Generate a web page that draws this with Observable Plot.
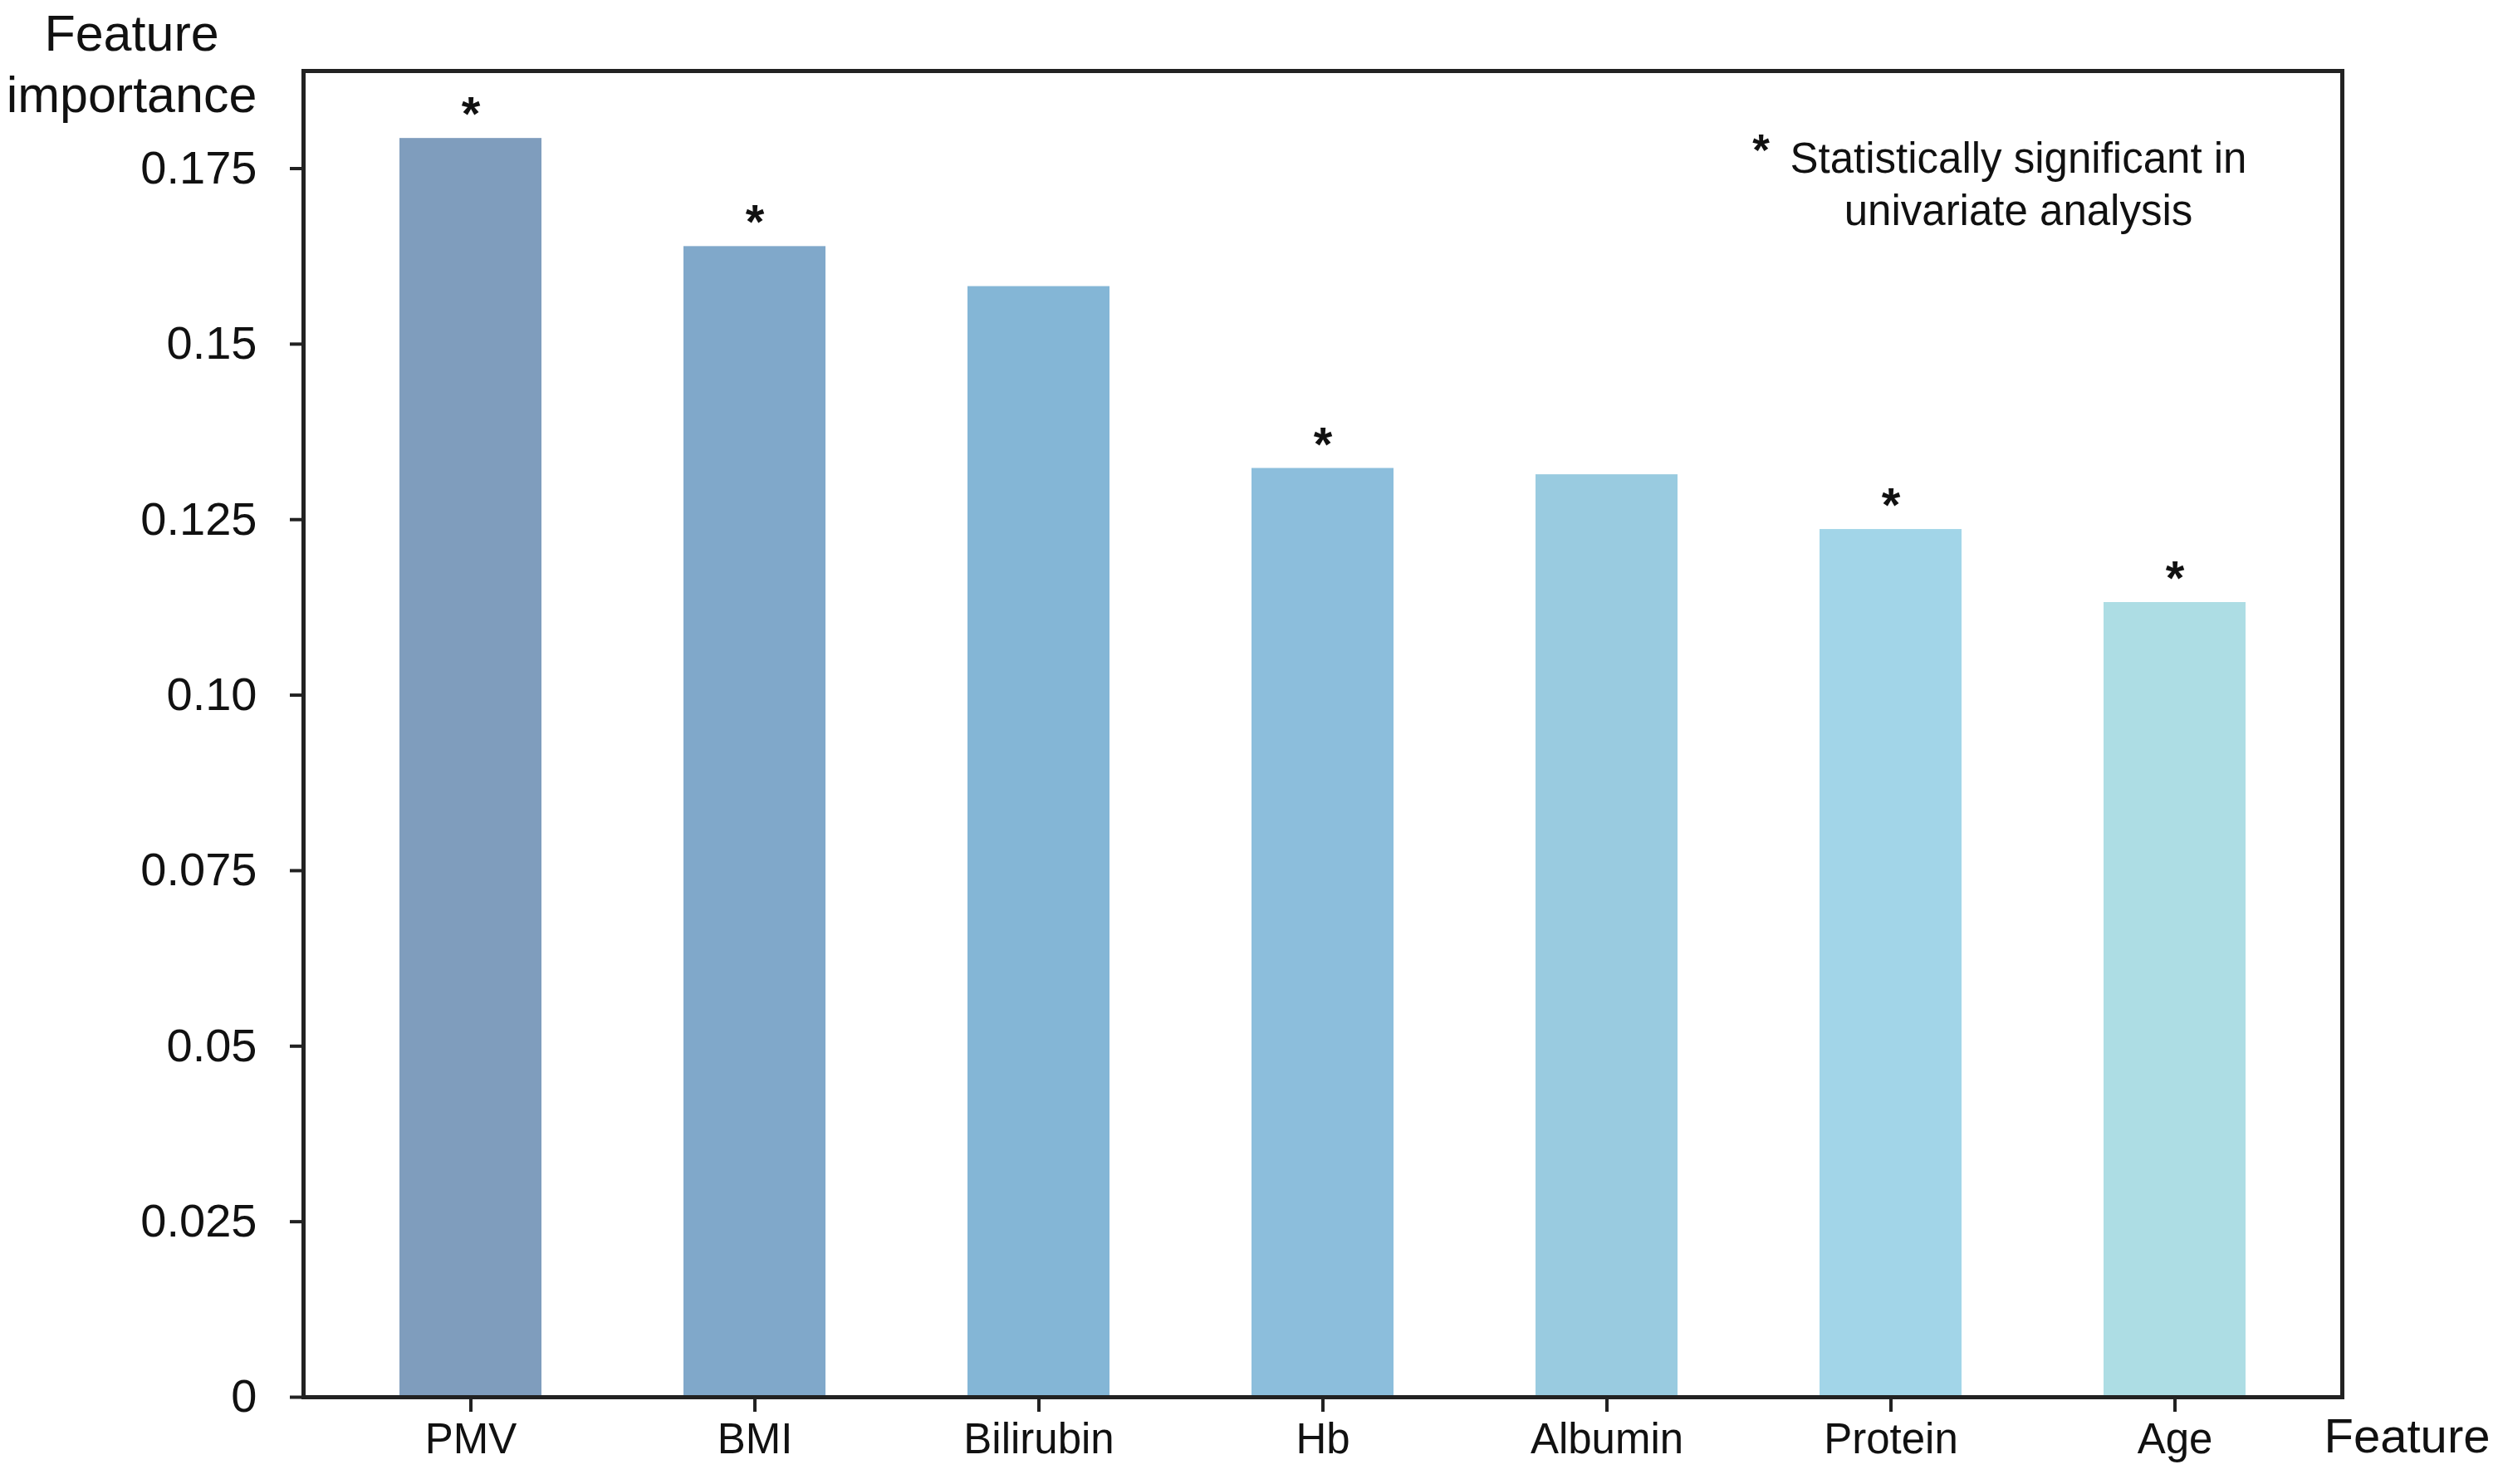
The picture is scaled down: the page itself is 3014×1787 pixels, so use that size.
<!DOCTYPE html>
<html>
<head>
<meta charset="utf-8">
<script src="https://cdn.jsdelivr.net/npm/d3@7"></script>
<script src="https://cdn.jsdelivr.net/npm/@observablehq/plot@0.6"></script>
<style>
  html, body { margin: 0; padding: 0; background: #fff; }
</style>
</head>
<body>
<div id="chart"></div>
<script>
// ---- data ----
const features = ["PMV", "BMI", "Bilirubin", "Hb", "Albumin", "Protein", "Age"];
const importance = [0.1793, 0.1639, 0.1582, 0.1323, 0.1314, 0.1236, 0.1132];
const significant = [true, true, false, true, false, true, true];
const palette = ["#7f9dbd", "#80a8ca", "#84b6d6", "#8cbedc", "#99cbe0", "#a2d5e8", "#addde4"];
const yTicks = [0, 0.025, 0.05, 0.075, 0.10, 0.125, 0.15, 0.175];
const yTickLabels = ["0", "0.025", "0.05", "0.075", "0.10", "0.125", "0.15", "0.175"];
const yAxisTitle = "Feature\nimportance";
const xAxisTitle = "Feature";
const legendText = "Statistically significant in\nunivariate analysis";

const rows = features.map((f, i) => ({feature: f, value: importance[i], sig: significant[i]}));
const font = "'Liberation Sans', Arial, Helvetica, sans-serif";

const chart = Plot.plot({
  width: 3014,
  height: 1787,
  marginTop: 85,
  marginBottom: 105,
  marginLeft: 365,
  marginRight: 194,
  style: {fontFamily: font, background: "#fff", color: "#111"},
  x: {domain: features, paddingInner: 0.5, paddingOuter: 0.33, label: null},
  y: {domain: [0, 0.1889], label: null},
  color: {domain: features, range: palette},
  marks: [
    Plot.barY(rows, {x: "feature", y: "value", fill: "feature"}),
    Plot.frame({stroke: "#222", strokeWidth: 5}),
    Plot.axisY({
      ticks: yTicks,
      tickFormat: d => yTickLabels[yTicks.indexOf(d)],
      tickSize: 16, tickPadding: 40, fontSize: 56, strokeWidth: 4, stroke: "#222", fill: "#111", label: null
    }),
    Plot.axisX({
      tickSize: 18, tickPadding: 13, fontSize: 51, strokeWidth: 4, stroke: "#222", fill: "#111", label: null
    }),
    Plot.text(rows.filter(d => d.sig), {
      x: "feature", y: "value", text: () => "*",
      fontSize: 58, fontWeight: "bold", lineAnchor: "middle", dy: -28, fill: "#111"
    }),
    Plot.text([yAxisTitle], {
      frameAnchor: "top-left", dx: -207, dy: -76, text: d => d,
      textAnchor: "middle", lineAnchor: "top", fontSize: 61, lineHeight: 1.2, fill: "#111"
    }),
    Plot.text([xAxisTitle], {
      frameAnchor: "bottom-right", dx: 78, dy: 48, text: d => d,
      textAnchor: "middle", lineAnchor: "middle", fontSize: 58, fill: "#111"
    }),
    Plot.text(["*"], {
      frameAnchor: "top-left", dx: 2120 - 365, dy: 182 - 85, text: d => d,
      textAnchor: "middle", lineAnchor: "middle", fontSize: 53, fontWeight: "bold", fill: "#111"
    }),
    Plot.text([legendText], {
      frameAnchor: "top-left", dx: 2430 - 365, dy: 219 - 85, text: d => d,
      textAnchor: "middle", lineAnchor: "middle", fontSize: 51, lineHeight: 1.22, fill: "#111"
    })
  ]
});
document.getElementById("chart").appendChild(chart);
</script>
</body>
</html>
